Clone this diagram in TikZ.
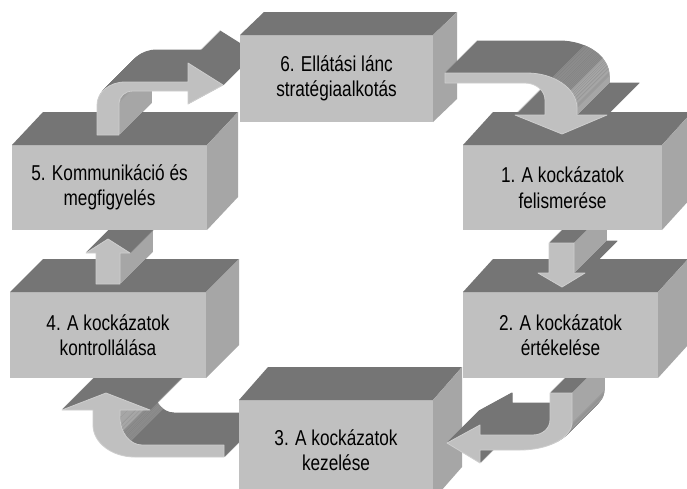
\documentclass[tikz,border=0pt]{standalone}
\usepackage{fontspec}
\setmainfont[FakeStretch=0.8]{Liberation Sans}

\definecolor{frontgray}{RGB}{192,192,192}
\definecolor{topgray}{RGB}{117,117,117}
\definecolor{sidegray}{RGB}{166,166,166}
\definecolor{midgray}{RGB}{140,140,140}
\definecolor{edgegray}{RGB}{206,206,206}

% top and side face of a box, #1 = front node, (#2,#3) = depth
\newcommand{\boxfaces}[3]{
  \fill[topface] (#1.north west) -- ([shift={(#2,#3)}]#1.north west)
    -- ([shift={(#2,#3)}]#1.north east) -- (#1.north east) -- cycle;
  \fill[sideface] (#1.north east) -- ([shift={(#2,#3)}]#1.north east)
    -- ([shift={(#2,#3)}]#1.south east) -- (#1.south east) -- cycle;
}

% outlines of the arrows (pixels, y down)
\newcommand{\arrowOneTwo}{(549,243) -- (549,273) -- (538,273) -- (562,287)
  -- (585,273) -- (574,273) -- (574,243) -- cycle}
\newcommand{\arrowTwoThree}{(550,393) -- (550,420) .. controls (550,428.3) and (542.4,435) .. (533,435)
  -- (480,435) -- (480,425) -- (447,443) -- (480,463) -- (480,450) -- (520,450)
  .. controls (548.7,450) and (572,437.5) .. (572,422) -- (572,393) -- cycle}
\newcommand{\arrowThreeFour}{(93,410) -- (62,410) -- (106,393) -- (150,410) -- (120,410) -- (120,417)
  .. controls (120,432.5) and (129.9,445) .. (142,445) -- (224,445) -- (224,457) -- (135,457)
  .. controls (111.8,457) and (93,442.7) .. (93,425) -- cycle}
\newcommand{\arrowFourFive}{(96,284) -- (96,253) -- (86,253) -- (108,239)
  -- (130,253) -- (120,253) -- (120,284) -- cycle}
\newcommand{\arrowFiveSix}{(97,135) -- (97,105) .. controls (97,92.3) and (109.5,82) .. (125,82)
  -- (188,82) -- (188,63) -- (223,85) -- (188,104) -- (188,91) -- (133,91)
  .. controls (125.3,91) and (119,96.4) .. (119,103) -- (119,135) -- cycle}
\newcommand{\arrowSixOne}{(445,73) -- (527,73) .. controls (554.6,73) and (577,88.7) .. (577,108)
  -- (577,115) -- (607,115) -- (562,134) -- (515,115) -- (545,115) -- (545,100)
  .. controls (545,90.6) and (536,83) .. (525,83) -- (445,83) -- cycle}

\begin{document}
\begin{tikzpicture}[x=1pt, y=-1pt,
    frontface/.style={fill=frontgray, inner sep=0pt, outer sep=0pt, align=center,
      font=\fontsize{21.5}{25.5}\selectfont},
    topface/.style={fill=topgray},
    sideface/.style={fill=sidegray},
    extr/.style={fill=topgray, draw=topgray, line width=1pt, line join=round},
    sideline/.style={draw=sidegray, line width=1.4pt},
    midline/.style={draw=midgray, line width=1.4pt},
    arrowfront/.style={fill=frontgray, draw=edgegray, line width=0.8pt, line join=round}
]
\fill[white] (0,0) rectangle (687,488);
\useasboundingbox (0,0) rectangle (687,488);
\clip (0,0) rectangle (687,488);

% 3 -> 4
\foreach \t in {32,31,...,1}{
  \begin{scope}[shift={(\t,-\t)}]
    \path[extr] \arrowThreeFour;
    \draw[sideline] (120,410) -- (120,417);
    \draw[sideline] plot[domain=0:30, samples=4] ({142-22*cos(\x)},{417+28*sin(\x)});
    \draw[midline] plot[domain=30:60, samples=4] ({142-22*cos(\x)},{417+28*sin(\x)});
  \end{scope}
}
\path[arrowfront] \arrowThreeFour;

% Box 4
\node[frontface, minimum width=196pt, minimum height=86pt] (kontroll) at (108,335)
  {4. A kockázatok\\kontrollálása};
\boxfaces{kontroll}{33}{-33}

% 4 -> 5
\foreach \t in {32,31,...,1}{
  \begin{scope}[shift={(\t,-\t)}]
    \path[extr] \arrowFourFive;
    \draw[sideline] (120,253) -- (120,284);
  \end{scope}
}
\path[arrowfront] \arrowFourFive;

% Box 5
\node[frontface, minimum width=195pt, minimum height=85pt] (kommunik) at (109.5,187.5)
  {5. Kommunikáció és\\megfigyelés};
\boxfaces{kommunik}{31}{-33}

% 5 -> 6
\foreach \t in {32,31,...,1}{
  \begin{scope}[shift={(\t,-\t)}]
    \path[extr] \arrowFiveSix;
    \draw[sideline] (119,135) -- (119,103);
    \draw[sideline] plot[domain=0:45, samples=4] ({133-14*cos(\x)},{103-12*sin(\x)});
  \end{scope}
}
\path[arrowfront] \arrowFiveSix;

% Box 6
\node[frontface, minimum width=193pt, minimum height=87pt] (strategia) at (336.5,78.5)
  {6. Ellátási lánc\\stratégiaalkotás};
\boxfaces{strategia}{24}{-23}

% Box 3
\node[frontface, minimum width=194pt, minimum height=100pt] (kezeles) at (336,450)
  {3. A kockázatok\\kezelése};
\boxfaces{kezeles}{29}{-33}

% 2 -> 3
\foreach \t in {32,31,...,1}{
  \begin{scope}[shift={(\t,-\t)}]
    \path[extr] \arrowTwoThree;
    \draw[sideline] (572,393) -- (572,422);
    \draw[sideline] plot[domain=45:90, samples=4] ({520+52*sin(\x)},{422+28*cos(\x)});
  \end{scope}
}
\path[arrowfront] \arrowTwoThree;

% Box 2
\node[frontface, minimum width=195pt, minimum height=86pt] (ertekeles) at (560.5,335)
  {2. A kockázatok\\értékelése};
\boxfaces{ertekeles}{30}{-33}

% 1 -> 2
\foreach \t in {32,31,...,1}{
  \begin{scope}[shift={(\t,-\t)}]
    \path[extr] \arrowOneTwo;
    \draw[sideline] (574,243) -- (574,273);
  \end{scope}
}
\path[arrowfront] \arrowOneTwo;

% Box 1
\node[frontface, minimum width=199pt, minimum height=85pt] (felismeres) at (562.5,187.5)
  {1. A kockázatok\\felismerése};
\boxfaces{felismeres}{30}{-33}

% 6 -> 1
\foreach \t in {32,31,...,1}{
  \begin{scope}[shift={(\t,-\t)}]
    \path[extr] \arrowSixOne;
    \draw[midline] plot[domain=30:60, samples=4] ({527+50*sin(\x)},{108-35*cos(\x)});
    \draw[sideline] plot[domain=60:90, samples=4] ({527+50*sin(\x)},{108-35*cos(\x)});
    \draw[sideline] (577,108) -- (577,115);
  \end{scope}
}
\path[arrowfront] \arrowSixOne;
\end{tikzpicture}
\end{document}
